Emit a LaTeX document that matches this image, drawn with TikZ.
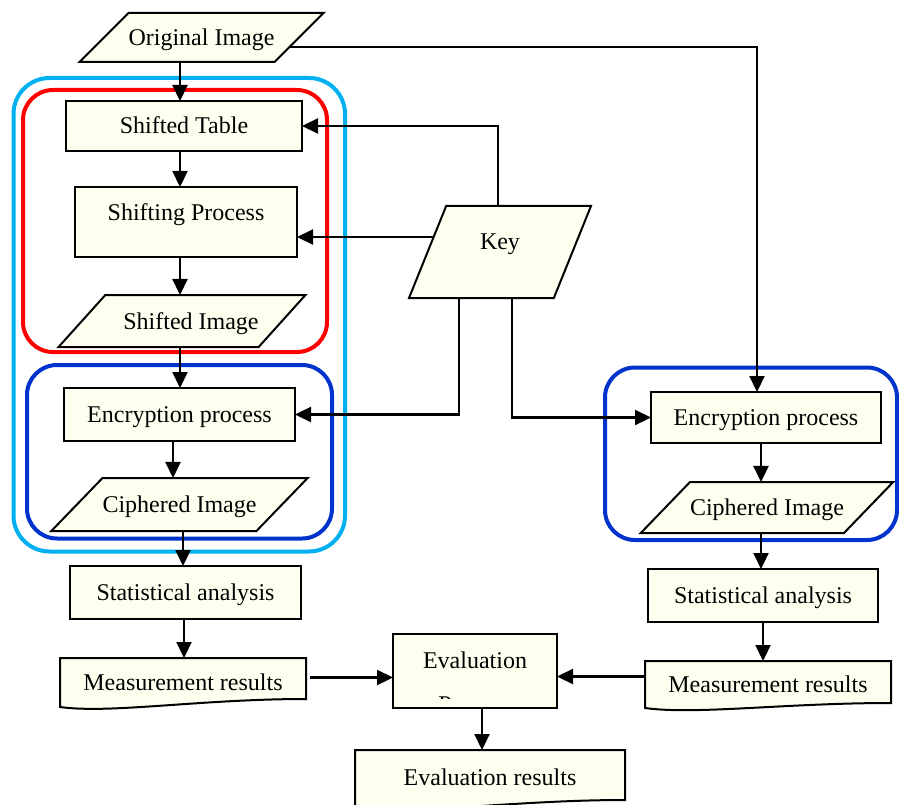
\documentclass[tikz,border=0pt]{standalone}
\usepackage{fontspec}
\setmainfont{Liberation Serif}
\usetikzlibrary{arrows.meta,shapes.geometric,calc,backgrounds}
\definecolor{boxfill}{RGB}{255,255,240}
\definecolor{outerblue}{RGB}{0,176,240}
\definecolor{innerred}{RGB}{255,0,0}
\definecolor{encblue}{RGB}{0,51,204}
\tikzset{
  proc/.style={draw, fill=boxfill, line width=2pt, inner sep=0pt, outer sep=0pt, text height=16pt, text depth=0pt},
  io/.style={trapezium, trapezium left angle=45, trapezium right angle=135, trapezium stretches body,
    draw, fill=boxfill, line width=2pt, inner xsep=0pt, outer sep=0pt, text height=16pt, text depth=0pt},
  doc/.style={inner sep=0pt, outer sep=0pt, text height=16pt, text depth=0pt},
  docline/.style={draw, fill=boxfill, line width=2pt},
  arr/.style={line width=2.2pt, -{Triangle[length=16pt,width=15pt]}},
  grp/.style={rounded corners=30pt, line width=4pt},
}
\begin{document}
\begin{tikzpicture}[x=1pt, y=-1pt, font=\fontsize{24}{28}\selectfont]
\useasboundingbox (0,0) rectangle (899,805);

% group frames
\draw[grp, outerblue, rounded corners=36pt] (13.5,78) rectangle (345,551.5);
\draw[grp, innerred] (23,90) rectangle (327,352);
\draw[grp, encblue] (27,365) rectangle (332,538.5);
\draw[grp, encblue] (605,367.5) rectangle (897,540);

% left column
\node[io, minimum width=241pt, inner ysep=16.5pt] (origimg) at (201.5,37.5) {Original Image};
\node[proc, minimum width=236pt, minimum height=50pt] (shtab) at (184,126) {Shifted Table};
\node[proc, minimum width=222pt, minimum height=70pt, text depth=19pt] (shproc) at (186,222) {Shifting Process};
\node[io, trapezium left angle=48, trapezium right angle=132, minimum width=236pt, inner ysep=18pt] (shimg) at (182,321) {\hspace*{18pt}Shifted Image};
\node[proc, minimum width=231pt, minimum height=53pt] (encL) at (179.5,414.5) {Encryption process};
\node[io, trapezium left angle=46, trapezium right angle=134, minimum width=251pt, inner ysep=18.5pt] (ciphL) at (179.5,504.5) {Ciphered Image};
\node[proc, minimum width=231pt, minimum height=53pt] (statL) at (185.5,592.5) {Statistical analysis};
\node[doc, minimum width=246pt, minimum height=49pt] (measL) at (183,682.5) {Measurement results};

% key
\node[io, trapezium left angle=68, trapezium right angle=112, minimum width=182pt, inner ysep=27pt, text depth=22pt] (key) at (500,252) {Key};

% right column
\node[proc, minimum width=230pt, minimum height=51pt] (encR) at (766,417.5) {Encryption process};
\node[io, trapezium left angle=46, trapezium right angle=134, minimum width=250pt, inner ysep=17.5pt] (ciphR) at (767,507.5) {Ciphered Image};
\node[proc, minimum width=230pt, minimum height=53pt] (statR) at (763,595.5) {Statistical analysis};
\node[doc, minimum width=246pt, minimum height=47pt] (measR) at (768,684.5) {Measurement results};

% evaluation
\node[proc, minimum width=164pt, minimum height=74pt, text depth=22pt] (eval) at (475,671) {Evaluation};
\begin{scope}
\clip (eval.north west) rectangle ([yshift=10pt]eval.south east);
\node[anchor=base] (evalmore) at (475,712) {Process};
\end{scope}
\node[doc, minimum width=270pt, minimum height=58pt, text depth=4pt] (evres) at (490,779) {Evaluation results};

% document shapes
\begin{scope}[on background layer]
\path[docline] (measL.north west) -- (measL.north east) -- ([yshift=8pt]measL.south east)
  .. controls ($(measL.south east)+(-106,-8)$) and ($(measL.south west)+(50,7)$) .. (measL.south west) -- cycle;
\path[docline] (measR.north west) -- (measR.north east) -- ([yshift=5pt]measR.south east)
  .. controls ($(measR.south east)+(-106,-5)$) and ($(measR.south west)+(50,7)$) .. (measR.south west) -- cycle;
\path[docline] (evres.north west) -- (evres.north east) -- ([yshift=8pt]evres.south east)
  .. controls ($(evres.south east)+(-110,-8)$) and ($(evres.south west)+(60,7)$) .. (evres.south west) -- cycle;
\end{scope}

% columns for the vertical arrows
\coordinate (cA) at (180,0);
\coordinate (cB) at (173,0);
\coordinate (cC) at (183,0);
\coordinate (cD) at (184,0);
\coordinate (cR) at (761,0);
\coordinate (cS) at (763,0);
\coordinate (cE) at (482,0);
\coordinate (cT) at (757,0);

\draw[arr] (origimg.south -| cA) -- (shtab.north -| cA);
\draw[arr] (shtab.south -| cA) -- (shproc.north -| cA);
\draw[arr] (shproc.south -| cA) -- (shimg.north -| cA);
\draw[arr] (shimg.south -| cA) -- (encL.north -| cA);
\draw[arr] (encL.south -| cB) -- (ciphL.north -| cB);
\draw[arr] (ciphL.south -| cC) -- (statL.north -| cC);
\draw[arr] (statL.south -| cD) -- (measL.north -| cD);

\draw[arr] (encR.south -| cR) -- (ciphR.north -| cR);
\draw[arr] (ciphR.south -| cR) -- (statR.north -| cR);
\draw[arr] (statR.south -| cS) -- (measR.north -| cS);

% original image to the right encryption
\coordinate (origout) at ($(origimg.bottom right corner)!0.3!(origimg.top right corner)$);
\draw[arr] (origout) -| (encR.north -| cT);

% key connectors
\draw[arr] ($(key.top left corner)+(52,0)$) |- (shtab.east);
\coordinate (keyleft) at ($(key.bottom left corner)!0.663!(key.top left corner)$);
\draw[arr] (keyleft) -- (keyleft -| shproc.east);
\draw[arr] ($(key.bottom left corner)+(50,0)$) |- (encL.east);
\draw[arr] ($(key.bottom left corner)+(103,0)$) |- (encR.west);

% results into evaluation
\coordinate (ml) at ([xshift=4pt,yshift=5pt]measL.east);
\draw[arr] (ml) -- (ml -| eval.west);
\coordinate (mr) at ([yshift=8pt]measR.west);
\draw[arr] (mr) -- (mr -| eval.east);
\draw[arr] (eval.south -| cE) -- (evres.north -| cE);

\end{tikzpicture}
\end{document}
